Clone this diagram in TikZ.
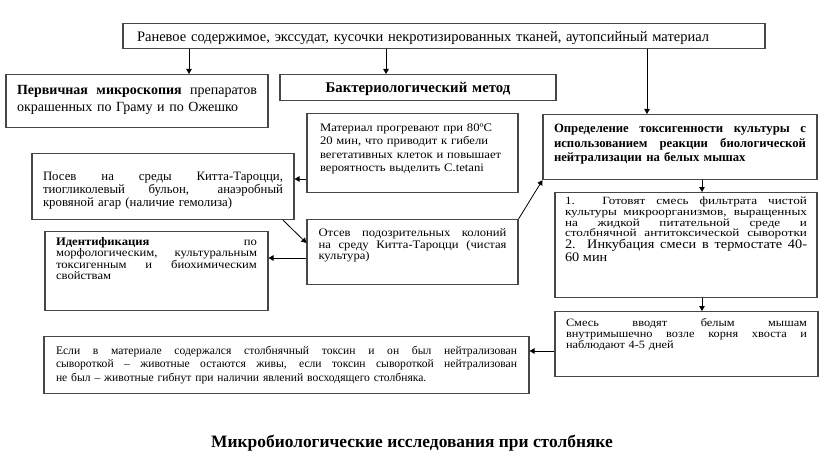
\documentclass[tikz,border=0pt]{standalone}
\usepackage{fontspec}
\setmainfont{Liberation Serif}
\newfontfamily\widefont[FakeStretch=1.2]{Liberation Serif}
\newfontfamily\halfwidefont[FakeStretch=1.1]{Liberation Serif}
\usetikzlibrary{arrows.meta}
\setlength{\parindent}{0pt}
\newcommand{\jl}[1]{\makebox[\hsize][s]{\spaceskip=0pt\xspaceskip=0pt #1}\\}
\tikzset{
  bx/.style={draw=black!72, line width=1.1pt, rectangle, anchor=north, inner ysep=0pt, align=left},
  arr/.style={-{Triangle[length=5pt,width=5.5pt]}, line width=0.8pt, black},
}
\begin{document}
\begin{tikzpicture}[x=1pt,y=-1pt]
\useasboundingbox (0,0) rectangle (829,473);

\node[bx, inner xsep=14pt, text width=614pt, text height=18pt, text depth=7pt,
  font=\fontsize{14.5}{16}\selectfont] (top) at (444,23)
  {Раневое содержимое, экссудат, кусочки некротизированных тканей, аутопсийный материал};

\node[bx, inner xsep=11pt, text width=240pt, text height=20pt, text depth=33pt,
  font=\fontsize{14}{17}\selectfont] (b1) at (137,74)
  {\jl{\textbf{Первичная микроскопия} препаратов}окрашенных по Граму и по Ожешко};

\node[bx, align=center, inner xsep=5pt, text width=266pt, text height=18pt, text depth=8pt,
  font=\fontsize{14.8}{16}\selectfont\bfseries] (b2) at (418,74)
  {Бактериологический метод};

\node[bx, inner xsep=13pt, text width=185pt, text height=18pt, text depth=61pt,
  font=\halfwidefont\fontsize{11.5}{13.3}\selectfont] (b3) at (412.5,113)
  {Материал прогревают при 80ºС\\20 мин, что приводит к гибели\\вегетативных клеток и повышает\\вероятность выделить C.tetani};

\node[bx, inner xsep=11pt, text width=252pt, text height=18pt, text depth=47pt,
  font=\fontsize{12.7}{14.5}\selectfont\bfseries] (b4) at (680,114)
  {\jl{Определение токсигенности культуры с}\jl{использованием реакции биологической}нейтрализации на белых мышах};

\node[bx, inner xsep=11pt, text width=240pt, text height=27pt, text depth=39pt,
  font=\fontsize{12.8}{13}\selectfont] (b5) at (163,153)
  {\jl{Посев на среды Китта-Тароцци,}\jl{тиогликолевый бульон, анаэробный}кровяной агар (наличие гемолиза)};

\node[bx, inner xsep=11.5pt, text width=188pt, text height=17pt, text depth=48pt,
  font=\halfwidefont\fontsize{11.5}{11.7}\selectfont] (b6) at (412.5,219)
  {\jl{Отсев подозрительных колоний}\jl{на среду Китта-Тароцци (чистая}культура)};

\node[bx, inner xsep=11pt, text width=201pt, text height=14pt, text depth=65pt,
  font=\halfwidefont\fontsize{11.5}{11.3}\selectfont] (b7) at (156.5,231)
  {\jl{\textbf{Идентификация} по}\jl{морфологическим, культуральным}\jl{токсигенным и биохимическим}свойствам};

\node[bx, inner xsep=10pt, text width=242pt, text height=12pt, text depth=93pt,
  font=\widefont\fontsize{11}{10.8}\selectfont] (b8) at (686,192)
  {\jl{1. Готовят смесь фильтрата чистой}\jl{культуры микроорганизмов, выращенных}\jl{на жидкой питательной среде и}\jl{столбнячной антитоксической сыворотки}
   {\halfwidefont\fontsize{13}{12}\selectfont\jl{2. Инкубация смеси в термостате 40-}60 мин}};

\node[bx, inner xsep=11pt, text width=241pt, text height=15pt, text depth=50pt,
  font=\halfwidefont\fontsize{11.2}{10.8}\selectfont] (b9) at (686.5,311)
  {\jl{Смесь вводят белым мышам}\jl{внутримышечно возле корня хвоста и}наблюдают 4-5 дней};

\node[bx, inner xsep=12pt, text width=461pt, text height=18pt, text depth=39pt,
  font=\fontsize{11.6}{13.3}\selectfont] (b10) at (286.5,336)
  {\jl{Если в материале содержался столбнячный токсин и он был нейтрализован}\jl{сывороткой – животные остаются живы, если токсин сывороткой нейтрализован}не был – животные гибнут при наличии явлений восходящего столбняка.};

\node[anchor=base, font=\fontsize{17.4}{19}\selectfont\bfseries] (title) at (412,447)
  {Микробиологические исследования при столбняке};

\draw[arr] (top.south -| 189,0) -- (b1.north -| 189,0);
\draw[arr] (top.south -| 386,0) -- (b2.north -| 386,0);
\draw[arr] (top.south -| 647,0) -- (b4.north -| 647,0);
\draw[arr] (b3.west |- 0,179) -- (b5.east |- 0,179);
\draw[arr] (b5.south -| 283,0) -- (b6.west |- 0,243);
\draw[arr] (b6.west |- 0,258) -- (b7.east |- 0,258);
\draw[arr] (b6.north east) -- (b4.south west);
\draw[arr] (b4.south -| 702,0) -- (b8.north -| 702,0);
\draw[arr] (b8.south -| 702,0) -- (b9.north -| 702,0);
\draw[arr] (b9.west |- 0,351) -- (b10.east |- 0,351);
\end{tikzpicture}
\end{document}
